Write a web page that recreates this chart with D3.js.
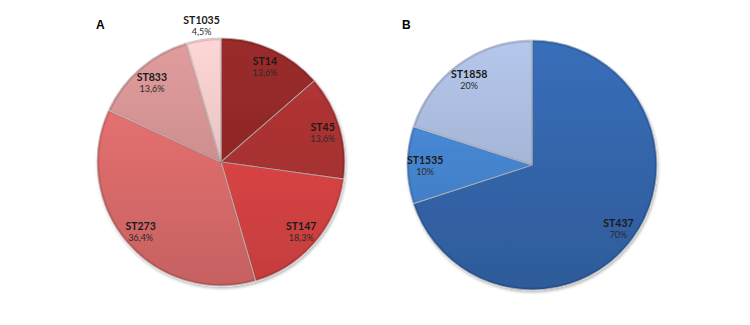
<!DOCTYPE html>
<html>
<head>
<meta charset="utf-8">
<script src="https://cdn.jsdelivr.net/npm/d3@7"></script>
<style>
  body { margin: 0; background: #fff; }
  text { font-family: Lato, "Open Sans", sans-serif; fill: #1a1a1a; }
</style>
</head>
<body>
<div id="chart-area"></div>
<script>
// pie A (ST distribution, red)
let namesA = ["ST14", "ST45", "ST147", "ST273", "ST833", "ST1035"];
let valuesA = [13.6, 13.6, 18.3, 36.4, 13.6, 4.5];
let colorsA = ["#8f2727", "#a83131", "#d94444", "#dc6c6c", "#cf9090", "#e9c4c4"];

// pie B (blue)
let namesB = ["ST437", "ST1535", "ST1858"];
let valuesB = [70, 10, 20];
let colorsB = ["#3365aa", "#4584cf", "#a6b6d8"];

let width = 750, height = 325;

let svg = d3.select("#chart-area").append("svg")
  .attr("width", width)
  .attr("height", height);

let defs = svg.append("defs");

// soft shadow under each pie
let shadow = defs.append("filter").attr("id", "shadow")
  .attr("x", "-10%").attr("y", "-10%").attr("width", "130%").attr("height", "130%");
shadow.append("feGaussianBlur").attr("in", "SourceAlpha").attr("stdDeviation", 1.5);
shadow.append("feOffset").attr("dx", 1).attr("dy", 1.5).attr("result", "b");
shadow.append("feComponentTransfer").append("feFuncA").attr("type", "linear").attr("slope", 0.3);
let merge = shadow.append("feMerge");
merge.append("feMergeNode");
merge.append("feMergeNode").attr("in", "SourceGraphic");

function fmt(v) {
  // comma decimals, like the original
  return (Number.isInteger(v) ? String(v) : v.toFixed(1).replace(".", ",")) + "%";
}

function drawPie(id, cx, cy, r, names, values, colors, letter) {
  let g = svg.append("g")
    .attr("transform", "translate(" + cx + "," + cy + ")");

  let pie = d3.pie().sort(null).value(d => d)(values);
  let arc = d3.arc().innerRadius(0).outerRadius(r);

  // one vertical gradient per slice, light on top, darker below
  colors.forEach((c, i) => {
    let grad = defs.append("linearGradient")
      .attr("id", id + "g" + i)
      .attr("gradientUnits", "userSpaceOnUse")
      .attr("x1", 0).attr("y1", -r).attr("x2", 0).attr("y2", r);
    grad.append("stop").attr("offset", "0%").attr("stop-color", d3.color(c).brighter(0.25));
    grad.append("stop").attr("offset", "100%").attr("stop-color", d3.color(c).darker(0.3));
  });

  let pies = g.append("g").attr("filter", "url(#shadow)");

  pies.selectAll("path.slice")
    .data(pie)
    .enter().append("path")
      .attr("class", "slice")
      .attr("d", arc)
      .attr("fill", (d, i) => "url(#" + id + "g" + i + ")")
      .attr("stroke", "rgba(255,255,255,0.55)")
      .attr("stroke-width", 1.2)
      .attr("stroke-linejoin", "round");

  // bevel darkening along the edges
  pies.selectAll("path.bevel")
    .data(pie)
    .enter().append("path")
      .attr("class", "bevel")
      .attr("d", d3.arc().innerRadius(0).outerRadius(r - 1.5)
        .startAngle(d => d.startAngle).endAngle(d => d.endAngle)
        .padAngle(0.008))
      .attr("fill", "none")
      .attr("stroke", "rgba(0,0,0,0.12)")
      .attr("stroke-width", 1.5);

  g.append("circle")
    .attr("r", r)
    .attr("fill", "none")
    .attr("stroke", "rgba(80,80,80,0.35)")
    .attr("stroke-width", 0.8);

  // labels: inside at 0.85r, tiny slices go outside
  let labels = g.selectAll("g.lbl")
    .data(pie)
    .enter().append("g")
      .attr("class", "lbl")
      .attr("transform", d => {
        let small = d.data < 5;
        let lr = small ? r + 14 : r * 0.855;
        let a = (d.startAngle + d.endAngle) / 2;
        return "translate(" + (lr * Math.sin(a)) + "," + (-lr * Math.cos(a)) + ")";
      });

  labels.append("text")
    .attr("text-anchor", "middle")
    .attr("y", -1)
    .style("font-weight", "bold")
    .style("font-size", "10.5px")
    .text((d, i) => names[i]);

  labels.append("text")
    .attr("text-anchor", "middle")
    .attr("y", 10)
    .style("font-size", "9px")
    .style("fill", "#2a2a2a")
    .text(d => fmt(d.data));

  svg.append("text")
    .attr("x", letter.x)
    .attr("y", letter.y)
    .style("font-family", "'Liberation Sans', Arial, sans-serif")
    .style("font-weight", "bold")
    .style("font-size", "12px")
    .style("fill", "#000")
    .text(letter.t);
}

drawPie("a", 221, 162, 124, namesA, valuesA, colorsA, {x: 96, y: 29, t: "A"});
drawPie("b", 532, 165, 125, namesB, valuesB, colorsB, {x: 402, y: 29, t: "B"});
</script>
</body>
</html>
